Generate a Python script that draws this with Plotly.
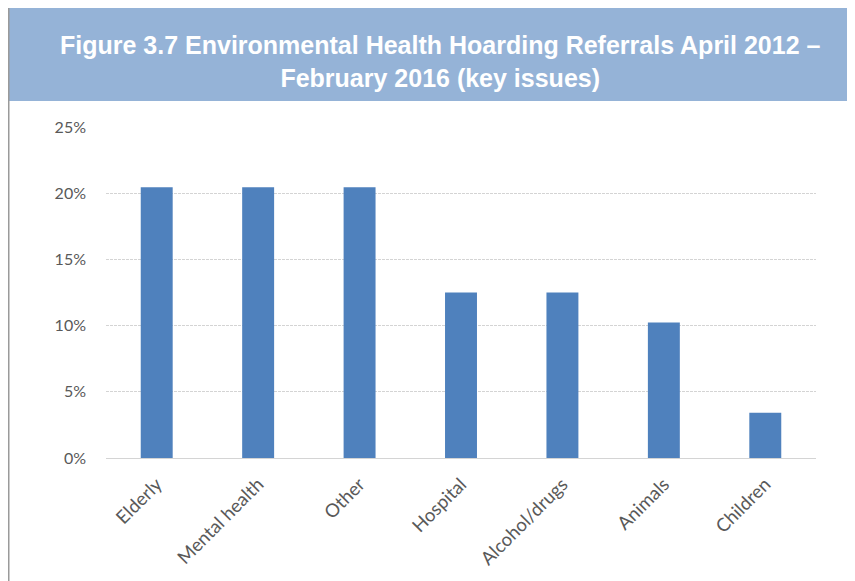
import plotly.graph_objects as go

categories = ["Elderly", "Mental health", "Other", "Hospital", "Alcohol/drugs", "Animals", "Children"]
shares = [0.2045, 0.2045, 0.2045, 0.125, 0.125, 0.1023, 0.0341]
tick_vals = [0, 0.05, 0.10, 0.15, 0.20, 0.25]
tick_text = ["0%", "5%", "10%", "15%", "20%", "25%"]
title_text = ("<b>Figure 3.7 Environmental Health Hoarding Referrals April 2012 –<br>"
              "February 2016 (key issues)</b>")

# page has an 8px body margin, so the figure is laid out 8px in from the window
OFF = 8
W, H = 855 - OFF, 581 - OFF
L, R, T, B = 98, 39, 119, 123
pw, ph = W - L - R, H - T - B

def px(x):
    return (x - OFF - L) / pw

def py(y):
    return (H - B - (y - OFF)) / ph

fig = go.Figure()
fig.add_trace(go.Bar(
    x=categories, y=shares,
    marker=dict(color="#4F81BD", line=dict(width=0)),
))

# banner + frame
fig.add_shape(type="rect", xref="paper", yref="paper",
              x0=px(9), x1=px(858), y0=py(101), y1=py(5),
              fillcolor="#95B3D7", line=dict(width=0), layer="below")
fig.add_shape(type="line", xref="paper", yref="paper",
              x0=px(8.5), x1=px(8.5), y0=py(5), y1=py(590),
              line=dict(color="#9A9A9A", width=2))

fig.add_annotation(text=title_text, xref="paper", yref="paper",
                   x=px(440), y=py(62), xanchor="center", yanchor="middle",
                   showarrow=False, align="center",
                   font=dict(family="Liberation Sans, Arial", size=25, color="white"))

fig.update_layout(
    width=W, height=H,
    margin=dict(l=L, r=R, t=T, b=B, pad=0),
    paper_bgcolor="white", plot_bgcolor="white",
    bargap=0.685, showlegend=False,
    font=dict(family="Lato, Open Sans, sans-serif", color="#595959", size=16),
)
fig.update_xaxes(tickangle=-45, showline=False, ticks="", ticklabelstandoff=11,
                 tickfont=dict(size=18.5, color="#595959"))
fig.update_yaxes(range=[0, 0.25], tickvals=tick_vals, ticktext=tick_text,
                 showgrid=True, gridcolor="#D4D4D4", gridwidth=1, griddash="3px,1px",
                 zeroline=True, zerolinecolor="#D4D4D4", zerolinewidth=1,
                 showline=False, ticks="", ticklabelstandoff=19,
                 tickfont=dict(size=16, color="#595959"))

fig.write_html("out.html")
